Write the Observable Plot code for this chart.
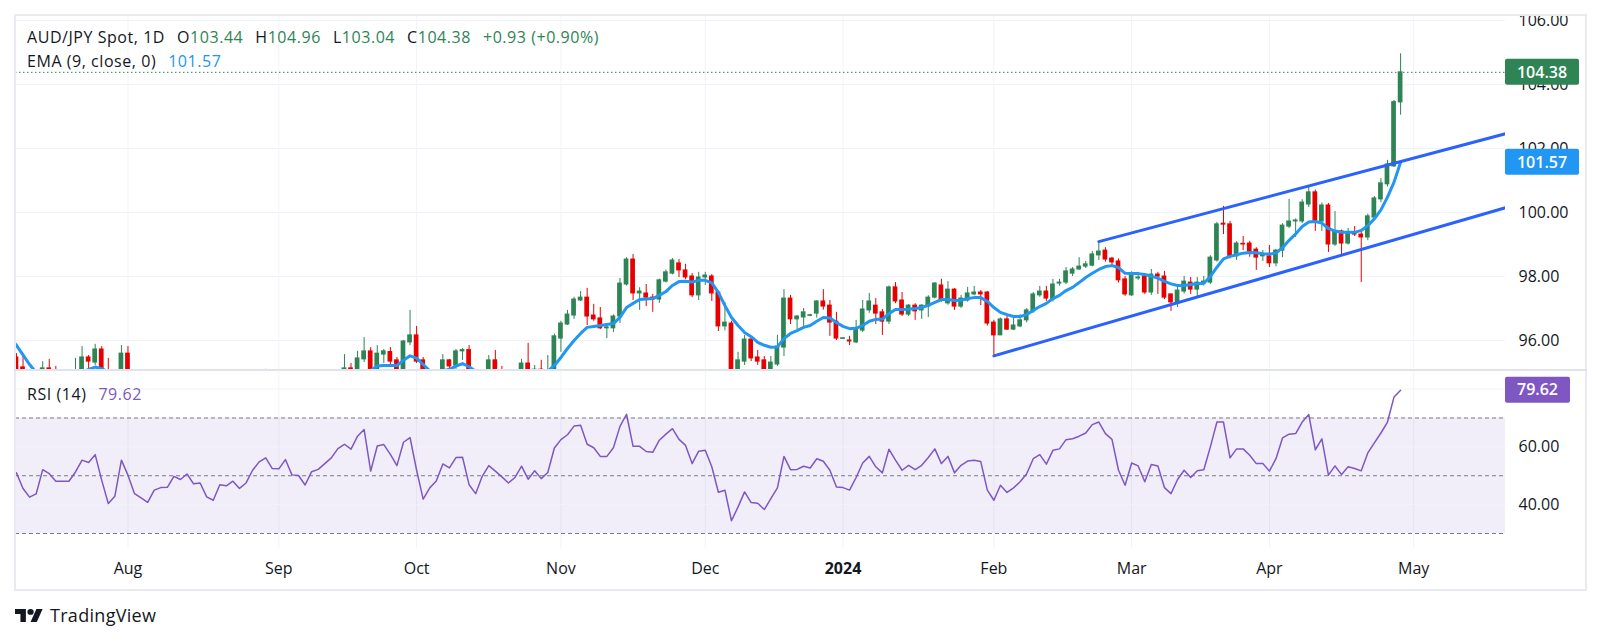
<!DOCTYPE html>
<html>
<head>
<meta charset="utf-8">
<script src="https://cdn.jsdelivr.net/npm/d3@7"></script>
<script src="https://cdn.jsdelivr.net/npm/@observablehq/plot@0.6"></script>
<style>
  html, body { margin: 0; padding: 0; background: #ffffff; }
  #root { position: relative; width: 1601px; height: 644px; overflow: hidden; font-family: "Open Sans", Roboto, sans-serif; color: #131722; }
  .abs { position: absolute; }
  #frame { left: 14px; top: 14px; width: 1569px; height: 573px; border: 2px solid #e9eaf0; z-index: 5; pointer-events: none; }
  #sep { left: 14px; top: 369px; width: 1573px; height: 2px; background: #e0e3eb; z-index: 5; }
  .hdr { font-size: 16px; white-space: pre; z-index: 6; line-height: 22px; letter-spacing: 0.55px; }
  .hdr .gap { display: inline-block; width: 12px; }
</style>
</head>
<body>
<div id="root"></div>
<script>
// ---------------- data ----------------
const startDate = "2023-07-06";
const opens = [96.40,95.47,95.16,94.45,94.10,94.20,95.13,94.95,94.70,94.70,94.72,95.00,95.47,95.31,95.72,94.90,94.20,94.40,95.59,95.00,94.30,94.10,93.85,94.25,94.35,94.37,94.75,94.62,94.85,94.45,94.48,93.90,93.75,94.30,94.25,94.45,94.15,94.38,94.85,94.98,95.03,94.70,94.69,95.00,94.45,94.43,94.05,94.50,94.58,94.80,95.00,95.03,95.13,95.00,95.41,95.66,94.85,95.56,95.64,95.38,95.02,95.94,96.16,95.38,94.65,94.90,95.00,95.38,95.22,95.66,95.70,94.95,94.70,95.00,95.38,95.00,94.85,94.62,94.85,95.28,94.95,95.09,94.95,95.05,96.06,96.50,96.78,97.25,97.34,96.78,96.69,96.38,96.38,96.75,97.75,98.53,97.47,97.47,97.34,97.28,97.84,98.09,98.41,98.19,98.00,97.41,97.97,98.00,97.50,96.44,96.53,94.70,95.34,96.03,95.47,95.38,94.95,95.25,95.78,97.31,96.66,96.72,96.77,96.84,97.22,97.09,96.59,96.05,96.00,95.94,96.31,96.94,97.09,96.88,96.59,97.66,97.25,96.81,97.09,96.94,97.06,97.34,97.72,97.16,97.59,97.06,97.25,97.44,97.50,97.50,96.56,96.16,96.66,96.34,96.44,96.63,96.91,97.41,97.53,97.28,97.78,97.81,98.09,98.22,98.31,98.34,98.66,98.81,98.56,98.47,97.91,97.41,97.94,98.00,97.50,98.06,98.00,97.44,97.16,97.53,97.81,97.59,97.78,97.81,98.50,99.65,99.63,98.63,99.02,99.03,98.84,98.63,98.63,98.41,98.81,99.56,99.72,99.72,100.25,100.63,99.72,100.22,99.00,99.41,99.03,99.38,99.31,99.22,99.84,100.41,100.88,101.44,103.44];
const highs = [96.55,95.59,95.50,94.80,94.60,95.34,95.41,95.19,94.95,94.98,95.44,95.81,95.53,95.88,95.81,95.44,94.60,95.84,95.81,95.05,94.50,94.30,94.40,94.50,94.60,94.90,94.90,95.00,94.95,94.70,94.55,94.05,94.40,94.45,94.60,94.55,94.50,94.95,95.02,95.10,95.04,95.00,95.04,95.03,94.70,94.50,94.60,94.80,94.95,95.04,95.04,95.56,95.28,95.66,96.09,95.78,95.84,95.72,95.78,95.47,96.00,96.94,96.44,95.47,95.00,95.04,95.56,95.40,95.72,95.75,95.84,95.00,95.04,95.53,95.69,95.19,95.00,95.00,95.41,95.91,95.22,95.38,95.53,96.20,96.60,96.94,97.35,97.53,97.63,97.13,97.03,96.47,96.80,97.94,98.59,98.69,97.65,97.75,97.44,97.92,98.20,98.56,98.53,98.38,98.09,98.13,98.13,98.06,97.55,97.19,96.60,95.63,96.16,96.10,95.69,95.50,95.50,96.16,97.59,97.41,96.78,97.00,96.82,97.25,97.59,97.25,96.88,96.08,96.13,96.63,97.25,97.47,97.31,96.97,97.70,97.81,97.50,97.13,97.15,97.12,97.40,97.81,97.91,97.84,97.62,97.41,97.66,97.69,97.56,97.53,96.63,96.70,96.81,96.78,96.80,97.00,97.50,97.69,97.69,97.91,97.91,98.28,98.28,98.59,98.47,98.78,99.03,98.90,98.60,98.55,98.00,98.15,98.13,98.05,98.22,98.13,98.16,97.45,97.66,98.00,97.97,97.97,98.00,98.65,99.69,100.19,99.72,99.09,99.25,99.10,98.90,98.81,98.97,98.85,99.65,100.41,99.80,100.40,100.81,100.70,100.30,100.28,100.03,99.45,99.50,99.56,99.45,99.95,100.50,101.06,101.63,103.50,104.96];
const lows = [95.70,94.80,94.35,93.90,93.70,94.10,94.70,94.50,94.45,94.40,94.60,94.90,94.95,95.22,94.75,94.10,94.00,94.30,94.80,94.10,93.80,93.60,93.70,94.00,94.10,94.20,94.40,94.50,94.30,94.25,93.70,93.55,93.70,94.05,94.10,94.00,94.05,94.30,94.70,94.80,94.60,94.50,94.60,94.30,94.20,93.90,94.00,94.35,94.50,94.70,94.85,94.90,94.85,94.90,95.31,94.70,94.80,95.28,95.22,94.90,94.95,95.84,95.28,94.50,94.50,94.70,94.90,94.95,95.00,95.38,94.80,94.50,94.60,94.90,94.85,94.70,94.50,94.55,94.80,94.80,94.85,94.80,94.85,94.95,95.63,96.47,96.66,97.22,96.47,96.60,96.34,96.06,96.25,96.53,97.70,97.25,96.94,97.06,96.88,97.16,97.80,98.05,97.97,97.90,97.34,97.25,97.72,97.22,96.28,96.30,94.50,94.60,95.22,95.34,95.22,94.70,94.85,95.19,95.50,96.50,96.34,96.41,96.74,96.70,96.95,96.13,96.00,96.03,95.84,95.90,96.25,96.85,96.50,96.16,96.50,97.15,96.75,96.75,96.63,96.66,96.72,97.30,97.20,97.10,96.94,97.00,97.20,97.40,97.09,96.45,95.50,96.16,96.31,96.31,96.40,96.55,96.85,97.35,97.22,97.20,97.70,97.75,98.00,98.19,98.25,98.30,98.50,98.45,98.30,97.80,97.38,97.38,97.88,97.44,97.41,97.44,97.28,96.91,97.03,97.45,97.44,97.31,97.70,97.75,98.45,99.31,98.55,98.50,98.81,98.60,98.19,98.47,98.28,98.30,98.59,99.50,99.22,99.65,100.15,99.41,99.41,98.75,98.94,98.66,98.98,99.25,97.81,99.12,99.78,100.31,100.80,101.41,103.04];
const closes = [95.50,94.95,94.45,94.10,94.20,95.13,94.95,94.70,94.70,94.72,95.00,95.47,95.34,95.72,94.90,94.20,94.40,95.59,95.00,94.30,94.10,93.85,94.25,94.35,94.37,94.75,94.62,94.85,94.45,94.48,93.90,93.75,94.30,94.25,94.45,94.15,94.38,94.85,94.98,95.03,94.70,94.69,95.00,94.45,94.43,94.05,94.50,94.58,94.80,95.00,95.03,95.13,95.00,95.44,95.66,94.85,95.59,95.66,95.34,95.02,95.97,96.16,95.34,94.65,94.90,95.00,95.38,95.19,95.66,95.70,94.95,94.70,95.00,95.38,95.00,94.85,94.62,94.85,95.28,94.95,95.09,94.95,95.05,96.13,96.53,96.81,97.28,97.34,96.75,96.66,96.38,96.41,96.75,97.78,98.53,97.47,97.53,97.34,97.28,97.88,98.13,98.50,98.19,97.97,97.41,97.97,98.03,97.47,96.44,96.56,94.70,95.38,96.03,95.44,95.34,94.95,95.31,95.81,97.31,96.66,96.75,96.88,96.79,97.22,97.06,96.56,96.06,96.07,95.97,96.34,96.97,97.22,96.84,96.59,97.66,97.22,96.81,97.09,96.91,97.09,97.34,97.78,97.25,97.59,97.06,97.31,97.47,97.50,97.44,96.53,96.16,96.66,96.34,96.47,96.63,96.94,97.44,97.53,97.31,97.75,97.81,98.16,98.22,98.31,98.38,98.69,98.78,98.53,98.44,97.88,97.44,98.06,97.97,97.50,98.06,98.00,97.34,97.19,97.56,97.84,97.59,97.81,97.84,98.59,99.63,99.62,98.63,99.03,99.00,98.78,98.59,98.66,98.41,98.81,99.59,99.72,99.75,100.31,100.63,99.72,100.22,99.00,99.41,99.03,99.38,99.31,99.22,99.88,100.44,100.91,101.50,103.45,104.38];
const ema9 = [96.10,95.85,95.55,95.25,95.00,94.92,94.88,94.83,94.80,94.82,94.88,95.00,95.10,95.17,95.12,95.02,94.95,95.00,95.01,94.90,94.80,94.68,94.60,94.55,94.50,94.55,94.58,94.62,94.59,94.56,94.42,94.29,94.30,94.29,94.32,94.29,94.31,94.42,94.53,94.63,94.65,94.66,94.73,94.67,94.62,94.51,94.51,94.52,94.58,94.66,94.74,94.85,94.90,94.98,95.04,95.06,95.20,95.22,95.22,95.22,95.38,95.52,95.45,95.25,95.05,95.00,95.05,95.10,95.20,95.28,95.18,95.04,95.00,95.02,95.02,94.99,94.90,94.90,94.97,94.98,95.00,95.00,95.04,95.22,95.47,95.75,96.00,96.22,96.41,96.44,96.47,96.50,96.53,96.72,97.03,97.16,97.28,97.30,97.31,97.41,97.53,97.72,97.84,97.85,97.83,97.88,97.88,97.80,97.50,97.09,96.72,96.47,96.25,96.12,95.94,95.85,95.79,95.80,96.06,96.22,96.31,96.41,96.47,96.60,96.72,96.70,96.56,96.44,96.37,96.38,96.47,96.60,96.66,96.67,96.84,96.97,96.97,96.98,97.00,97.03,97.10,97.19,97.28,97.28,97.25,97.26,97.31,97.34,97.34,97.22,97.03,96.88,96.81,96.75,96.75,96.81,96.94,97.06,97.16,97.31,97.41,97.56,97.66,97.81,97.97,98.10,98.22,98.31,98.34,98.28,98.10,98.09,98.09,98.06,98.01,97.95,97.85,97.77,97.72,97.72,97.75,97.77,97.79,98.00,98.29,98.55,98.63,98.68,98.73,98.75,98.74,98.71,98.70,98.73,98.90,99.13,99.33,99.56,99.70,99.72,99.67,99.50,99.42,99.38,99.38,99.38,99.44,99.59,99.80,100.08,100.48,100.95,101.57];
const rsi14 = [50.5,51.0,45.6,42.6,43.7,52.1,50.7,48.1,48.1,48.1,51.3,55.4,54.6,57.3,48.4,40.4,42.9,55.4,50.2,43.8,42.3,40.8,45.0,45.9,46.0,49.8,48.7,50.6,47.2,47.5,42.7,41.5,46.9,46.5,48.1,45.6,47.5,51.9,54.8,56.2,52.5,52.4,55.6,50.3,50.1,46.8,51.4,52.2,54.2,56.2,59.4,60.9,59.2,63.7,66.0,51.6,60.3,60.8,57.4,53.5,61.6,63.2,51.9,41.9,45.8,48.2,54.1,52.7,56.3,56.4,46.9,43.8,49.8,53.5,51.6,49.6,47.5,49.4,53.3,48.8,51.7,49.0,51.1,59.6,62.5,64.2,67.2,67.5,60.9,59.7,56.7,56.7,59.7,67.1,71.3,60.2,60.2,58.4,58.1,62.3,64.4,66.3,62.6,60.5,54.2,58.5,58.8,53.1,44.3,45.0,34.4,39.2,44.4,40.7,40.5,38.3,42.1,45.8,56.7,52.1,52.2,53.3,52.7,55.9,55.0,51.9,46.1,45.9,45.0,49.4,54.4,56.7,53.1,51.0,59.2,55.4,51.9,53.6,52.1,53.6,56.3,59.3,54.2,56.7,51.0,53.6,55.1,55.4,54.9,45.0,41.5,46.7,44.2,45.8,47.9,50.7,55.9,57.3,54.0,58.8,59.3,62.5,62.8,63.7,64.8,67.7,68.6,64.6,62.6,51.9,46.7,54.4,53.4,47.9,53.9,53.4,45.9,43.8,48.7,51.9,49.4,51.7,52.1,60.0,68.6,68.6,56.2,59.3,59.3,57.1,54.2,54.2,51.6,55.9,63.1,64.4,64.6,68.6,71.2,59.0,62.8,50.2,53.4,50.4,53.1,52.5,51.7,57.9,61.4,64.8,68.6,77.3,79.62];
const monthLabels = ["Aug","Sep","Oct","Nov","Dec","2024","Feb","Mar","Apr","May"];
const priceTicks = [96, 98, 100, 102, 104, 106];
const rsiTicks = [40, 60];
const rsiGrid = [40, 60, 80];
const rsiLevels = [30, 50, 70];
const channelUpper = [["2024-02-23", 99.09], ["2024-05-21", 102.46]];
const channelLower = [["2024-02-01", 95.52], ["2024-05-21", 100.15]];

// ---------------- styling ----------------
const UP = "#2e8454", DOWN = "#e60000", EMA_C = "#2196f3", CH_C = "#2962ff", RSI_C = "#7e57c2";
const GRID = "#f0f3fa", TEXT = "#131722";
const FONT = '"Open Sans", Roboto, sans-serif';

// trading-day calendar (weekdays) used as the x index
const cal = [];
{ let d = new Date(startDate + "T00:00:00Z");
  while (cal.length < 260) { const w = d.getUTCDay(); if (w > 0 && w < 6) cal.push(new Date(d)); d = new Date(d.getTime() + 864e5); } }
const idxOf = s => cal.findIndex(d => +d === +new Date(s + "T00:00:00Z"));
const monthStarts = [];
for (let k = 1; k < cal.length; k++) if (cal[k].getUTCMonth() !== cal[k - 1].getUTCMonth()) monthStarts.push(k);
const ticksX = monthStarts.slice(0, monthLabels.length);
const labelByIdx = new Map(ticksX.map((v, k) => [v, monthLabels[k]]));

const bars = opens.map((o, i) => ({i, date: cal[i], open: o, high: highs[i], low: lows[i], close: closes[i], ema: ema9[i], rsi: rsi14[i]}));
const ups = bars.filter(d => d.close >= d.open);
const downs = bars.filter(d => d.close < d.open);
const chUp = channelUpper.map(([s, v]) => ({i: idxOf(s), v}));
const chLo = channelLower.map(([s, v]) => ({i: idxOf(s), v}));
const last = bars[bars.length - 1], prev = bars[bars.length - 2];

const xDomain = [0.854, 227.99];
const HW = 0.36; // half body width in bars

const root = document.getElementById("root");

const main = Plot.plot({
  width: 1571, height: 355,
  marginLeft: 0, marginRight: 81, marginTop: 0, marginBottom: 0,
  style: {fontFamily: FONT, fontSize: "16px", color: TEXT, background: "transparent", overflow: "visible"},
  x: {domain: xDomain, axis: null},
  y: {domain: [95.0625, 106.156], axis: null},
  marks: [
    Plot.gridX(ticksX, {stroke: GRID, strokeOpacity: 1}),
    Plot.gridY(priceTicks, {stroke: GRID, strokeOpacity: 1}),
    Plot.axisY(priceTicks, {anchor: "right", label: null, tickSize: 0, tickPadding: 13, tickFormat: d => d.toFixed(2), fill: TEXT}),
    Plot.ruleY([last.close], {stroke: UP, strokeDasharray: "1.5,2.5", strokeWidth: 1}),
    Plot.ruleX(ups, {x: "i", y1: "low", y2: "high", stroke: UP, strokeWidth: 1, clip: true}),
    Plot.ruleX(downs, {x: "i", y1: "low", y2: "high", stroke: DOWN, strokeWidth: 1, clip: true}),
    Plot.rect(ups, {x1: d => d.i - HW, x2: d => d.i + HW, y1: "open", y2: "close", fill: UP, insetTop: -0.5, insetBottom: -0.5, clip: true}),
    Plot.rect(downs, {x1: d => d.i - HW, x2: d => d.i + HW, y1: "open", y2: "close", fill: DOWN, insetTop: -0.5, insetBottom: -0.5, clip: true}),
    Plot.line(bars, {x: "i", y: "ema", stroke: EMA_C, strokeWidth: 3, clip: true}),
    Plot.line(chUp, {x: "i", y: "v", stroke: CH_C, strokeWidth: 3, clip: true}),
    Plot.line(chLo, {x: "i", y: "v", stroke: CH_C, strokeWidth: 3, clip: true})
  ]
});
main.classList.add("abs");
main.style.left = "15px"; main.style.top = "15px"; main.style.overflow = "visible";
root.appendChild(main);

const rsiChart = Plot.plot({
  width: 1571, height: 220,
  marginLeft: 0, marginRight: 81, marginTop: 0, marginBottom: 42,
  style: {fontFamily: FONT, fontSize: "16px", color: TEXT, background: "transparent", overflow: "visible"},
  x: {domain: xDomain, axis: null},
  y: {domain: [24.8, 86.45], axis: null},
  marks: [
    Plot.gridX(ticksX, {stroke: GRID, strokeOpacity: 1}),
    Plot.rect([{lo: rsiLevels[0], hi: rsiLevels[2]}], {x1: () => xDomain[0], x2: () => xDomain[1], y1: "lo", y2: "hi", fill: RSI_C, fillOpacity: 0.1}),
    Plot.gridY(rsiGrid, {stroke: GRID, strokeOpacity: 1}),
    Plot.ruleY(rsiLevels, {stroke: "#787b86", strokeDasharray: "4,3", strokeWidth: 1}),
    Plot.line(bars, {x: "i", y: "rsi", stroke: RSI_C, strokeWidth: 1.5, clip: true}),
    Plot.axisY(rsiTicks, {anchor: "right", label: null, tickSize: 0, tickPadding: 13, tickFormat: d => d.toFixed(2), fill: TEXT}),
    Plot.axisX(ticksX, {anchor: "bottom", label: null, tickSize: 0, tickPadding: 14, tickFormat: d => labelByIdx.get(d), fill: TEXT})
  ]
});
rsiChart.classList.add("abs");
rsiChart.style.left = "15px"; rsiChart.style.top = "370px"; rsiChart.style.overflow = "visible";
root.appendChild(rsiChart);
d3.select(rsiChart).selectAll("text").filter(function () { return this.textContent === "2024"; }).attr("font-weight", "bold");

// value boxes on the price scales
function addBox(chart, value, txt, bg, w) {
  const y = chart.scale("y").apply(value);
  const x0 = chart.scale("x").range[1];
  const g = d3.select(chart).append("g");
  g.append("rect").attr("x", x0).attr("y", y - 13).attr("width", w).attr("height", 26).attr("rx", 2).attr("fill", bg);
  g.append("text").attr("x", x0 + w / 2).attr("y", y).attr("dy", "0.36em").attr("text-anchor", "middle")
    .attr("fill", "#ffffff").attr("font-size", 16).attr("font-weight", 600).attr("font-family", FONT).text(txt);
}
addBox(main, last.close, last.close.toFixed(2), UP, 74);
addBox(main, last.ema, last.ema.toFixed(2), EMA_C, 74);
addBox(rsiChart, last.rsi, last.rsi.toFixed(2), RSI_C, 65);

// legends
const chg = last.close - prev.close, pct = chg / prev.close * 100;
const g = s => `<span style="color:${UP}">${s}</span>`;
const GAP = `<span class="gap"></span>`;
const h1 = document.createElement("div");
h1.className = "abs hdr"; h1.style.left = "27px"; h1.style.top = "26px";
h1.innerHTML = `AUD/JPY Spot, 1D${GAP}O${g(last.open.toFixed(2))}${GAP}H${g(last.high.toFixed(2))}${GAP}L${g(last.low.toFixed(2))}${GAP}C${g(last.close.toFixed(2))}${GAP}${g((chg >= 0 ? "+" : "") + chg.toFixed(2) + " (" + (pct >= 0 ? "+" : "") + pct.toFixed(2) + "%)")}`;
root.appendChild(h1);
const h2 = document.createElement("div");
h2.className = "abs hdr"; h2.style.left = "27px"; h2.style.top = "50px";
h2.innerHTML = `EMA (9, close, 0)${GAP}<span style="color:${EMA_C}">${last.ema.toFixed(2)}</span>`;
root.appendChild(h2);
const h3 = document.createElement("div");
h3.className = "abs hdr"; h3.style.left = "27px"; h3.style.top = "383px";
h3.innerHTML = `RSI (14)${GAP}<span style="color:${RSI_C}">${last.rsi.toFixed(2)}</span>`;
root.appendChild(h3);

// frame + separator
const fr = document.createElement("div"); fr.id = "frame"; fr.className = "abs"; root.appendChild(fr);
const sp = document.createElement("div"); sp.id = "sep"; sp.className = "abs"; root.appendChild(sp);

// logo
const logo = document.createElement("div");
logo.className = "abs";
logo.style.cssText = "left:15px; top:604px; height:22px; display:flex; align-items:center; color:#131722;";
logo.innerHTML = `<svg width="28" height="13" viewBox="0 4 36 18" preserveAspectRatio="none"><path d="M14 22H7V11H0V4h14v18z" fill="#131722"/><circle cx="20" cy="8" r="4" fill="#131722"/><path d="M28 22h-8l7.5-18h8L28 22z" fill="#131722"/></svg><span style="font-size:18px; margin-left:7px; font-weight:500; letter-spacing:0.3px;">TradingView</span>`;
root.appendChild(logo);
</script>
</body>
</html>
